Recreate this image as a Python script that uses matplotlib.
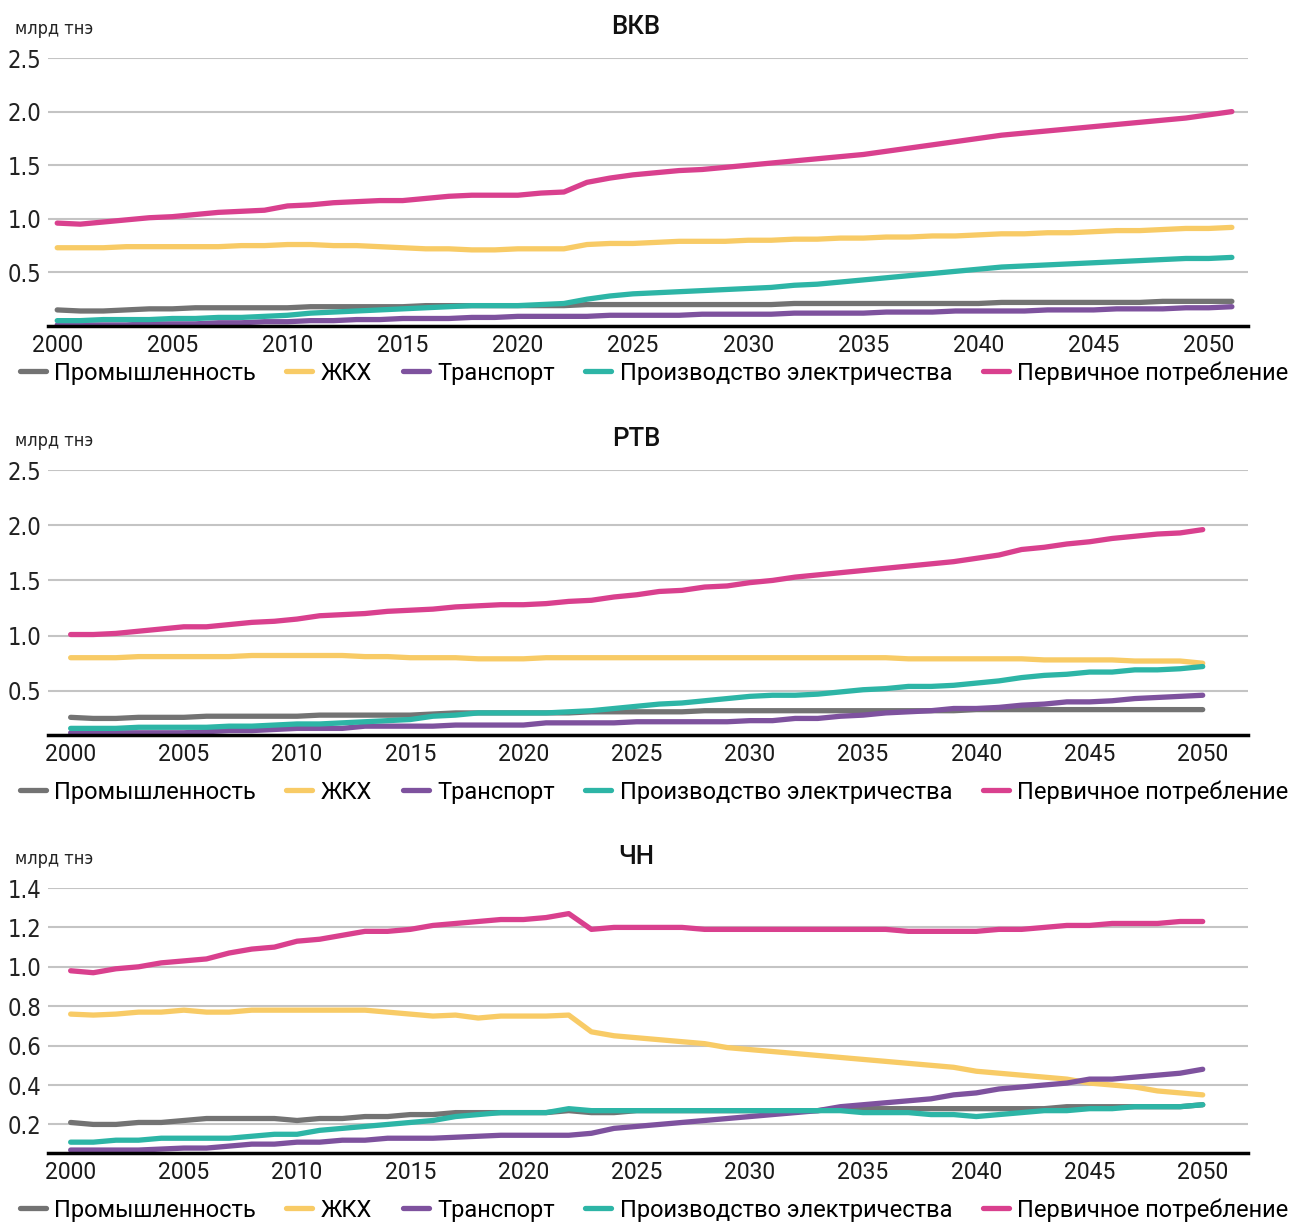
import matplotlib
matplotlib.use("Agg")
from matplotlib import pyplot as plt
from matplotlib import font_manager

# ---- data (млрд тнэ) ----
years_vkv = list(range(2000, 2052))
years = list(range(2000, 2051))

series_names = ['Промышленность', 'ЖКХ', 'Транспорт',
                'Производство электричества', 'Первичное потребление']
colors = ['#737373', '#F8CB66', '#7E529E', '#2DB5A6', '#D9408E']

# ВКВ (2000-2051)
vkv_industry = [0.15, 0.14, 0.14, 0.15, 0.16, 0.16, 0.17, 0.17, 0.17, 0.17,
                0.17, 0.18, 0.18, 0.18, 0.18, 0.18, 0.19, 0.19, 0.19, 0.19,
                0.19, 0.19, 0.19, 0.20, 0.20, 0.20, 0.20, 0.20, 0.20, 0.20,
                0.20, 0.20, 0.21, 0.21, 0.21, 0.21, 0.21, 0.21, 0.21, 0.21,
                0.21, 0.22, 0.22, 0.22, 0.22, 0.22, 0.22, 0.22, 0.23, 0.23,
                0.23, 0.23]
vkv_housing = [0.73, 0.73, 0.73, 0.74, 0.74, 0.74, 0.74, 0.74, 0.75, 0.75,
               0.76, 0.76, 0.75, 0.75, 0.74, 0.73, 0.72, 0.72, 0.71, 0.71,
               0.72, 0.72, 0.72, 0.76, 0.77, 0.77, 0.78, 0.79, 0.79, 0.79,
               0.80, 0.80, 0.81, 0.81, 0.82, 0.82, 0.83, 0.83, 0.84, 0.84,
               0.85, 0.86, 0.86, 0.87, 0.87, 0.88, 0.89, 0.89, 0.90, 0.91,
               0.91, 0.92]
vkv_transport = [0.01, 0.01, 0.01, 0.01, 0.02, 0.02, 0.02, 0.03, 0.03, 0.04,
                 0.04, 0.05, 0.05, 0.06, 0.06, 0.07, 0.07, 0.07, 0.08, 0.08,
                 0.09, 0.09, 0.09, 0.09, 0.10, 0.10, 0.10, 0.10, 0.11, 0.11,
                 0.11, 0.11, 0.12, 0.12, 0.12, 0.12, 0.13, 0.13, 0.13, 0.14,
                 0.14, 0.14, 0.14, 0.15, 0.15, 0.15, 0.16, 0.16, 0.16, 0.17,
                 0.17, 0.18]
vkv_power = [0.05, 0.05, 0.06, 0.06, 0.06, 0.07, 0.07, 0.08, 0.08, 0.09,
             0.10, 0.12, 0.13, 0.14, 0.15, 0.16, 0.17, 0.18, 0.19, 0.19,
             0.19, 0.20, 0.21, 0.25, 0.28, 0.30, 0.31, 0.32, 0.33, 0.34,
             0.35, 0.36, 0.38, 0.39, 0.41, 0.43, 0.45, 0.47, 0.49, 0.51,
             0.53, 0.55, 0.56, 0.57, 0.58, 0.59, 0.60, 0.61, 0.62, 0.63,
             0.63, 0.64]
vkv_primary = [0.96, 0.95, 0.97, 0.99, 1.01, 1.02, 1.04, 1.06, 1.07, 1.08,
               1.12, 1.13, 1.15, 1.16, 1.17, 1.17, 1.19, 1.21, 1.22, 1.22,
               1.22, 1.24, 1.25, 1.34, 1.38, 1.41, 1.43, 1.45, 1.46, 1.48,
               1.50, 1.52, 1.54, 1.56, 1.58, 1.60, 1.63, 1.66, 1.69, 1.72,
               1.75, 1.78, 1.80, 1.82, 1.84, 1.86, 1.88, 1.90, 1.92, 1.94,
               1.97, 2.00]

# РТВ (2000-2050)
rtv_industry = [0.26, 0.25, 0.25, 0.26, 0.26, 0.26, 0.27, 0.27, 0.27, 0.27,
                0.27, 0.28, 0.28, 0.28, 0.28, 0.28, 0.29, 0.30, 0.30, 0.30,
                0.30, 0.30, 0.30, 0.31, 0.31, 0.31, 0.31, 0.31, 0.32, 0.32,
                0.32, 0.32, 0.32, 0.32, 0.32, 0.32, 0.32, 0.32, 0.32, 0.32,
                0.33, 0.33, 0.33, 0.33, 0.33, 0.33, 0.33, 0.33, 0.33, 0.33,
                0.33]
rtv_housing = [0.80, 0.80, 0.80, 0.81, 0.81, 0.81, 0.81, 0.81, 0.82, 0.82,
               0.82, 0.82, 0.82, 0.81, 0.81, 0.80, 0.80, 0.80, 0.79, 0.79,
               0.79, 0.80, 0.80, 0.80, 0.80, 0.80, 0.80, 0.80, 0.80, 0.80,
               0.80, 0.80, 0.80, 0.80, 0.80, 0.80, 0.80, 0.79, 0.79, 0.79,
               0.79, 0.79, 0.79, 0.78, 0.78, 0.78, 0.78, 0.77, 0.77, 0.77,
               0.75]
rtv_transport = [0.12, 0.12, 0.12, 0.12, 0.12, 0.12, 0.13, 0.14, 0.14, 0.15,
                 0.16, 0.16, 0.16, 0.18, 0.18, 0.18, 0.18, 0.19, 0.19, 0.19,
                 0.19, 0.21, 0.21, 0.21, 0.21, 0.22, 0.22, 0.22, 0.22, 0.22,
                 0.23, 0.23, 0.25, 0.25, 0.27, 0.28, 0.30, 0.31, 0.32, 0.34,
                 0.34, 0.35, 0.37, 0.38, 0.40, 0.40, 0.41, 0.43, 0.44, 0.45,
                 0.46]
rtv_power = [0.16, 0.16, 0.16, 0.17, 0.17, 0.17, 0.17, 0.18, 0.18, 0.19,
             0.20, 0.20, 0.21, 0.22, 0.23, 0.24, 0.27, 0.28, 0.30, 0.30,
             0.30, 0.30, 0.31, 0.32, 0.34, 0.36, 0.38, 0.39, 0.41, 0.43,
             0.45, 0.46, 0.46, 0.47, 0.49, 0.51, 0.52, 0.54, 0.54, 0.55,
             0.57, 0.59, 0.62, 0.64, 0.65, 0.67, 0.67, 0.69, 0.69, 0.70,
             0.72]
rtv_primary = [1.01, 1.01, 1.02, 1.04, 1.06, 1.08, 1.08, 1.10, 1.12, 1.13,
               1.15, 1.18, 1.19, 1.20, 1.22, 1.23, 1.24, 1.26, 1.27, 1.28,
               1.28, 1.29, 1.31, 1.32, 1.35, 1.37, 1.40, 1.41, 1.44, 1.45,
               1.48, 1.50, 1.53, 1.55, 1.57, 1.59, 1.61, 1.63, 1.65, 1.67,
               1.70, 1.73, 1.78, 1.80, 1.83, 1.85, 1.88, 1.90, 1.92, 1.93,
               1.96]

# ЧН (2000-2050)
chn_industry = [0.21, 0.20, 0.20, 0.21, 0.21, 0.22, 0.23, 0.23, 0.23, 0.23,
                0.22, 0.23, 0.23, 0.24, 0.24, 0.25, 0.25, 0.26, 0.26, 0.26,
                0.26, 0.26, 0.27, 0.26, 0.26, 0.27, 0.27, 0.27, 0.27, 0.27,
                0.27, 0.27, 0.27, 0.27, 0.28, 0.28, 0.28, 0.28, 0.28, 0.28,
                0.28, 0.28, 0.28, 0.28, 0.29, 0.29, 0.29, 0.29, 0.29, 0.29,
                0.30]
chn_housing = [0.76, 0.755, 0.76, 0.77, 0.77, 0.78, 0.77, 0.77, 0.78, 0.78,
               0.78, 0.78, 0.78, 0.78, 0.77, 0.76, 0.75, 0.755, 0.74, 0.75,
               0.75, 0.75, 0.755, 0.67, 0.65, 0.64, 0.63, 0.62, 0.61, 0.59,
               0.58, 0.57, 0.56, 0.55, 0.54, 0.53, 0.52, 0.51, 0.50, 0.49,
               0.47, 0.46, 0.45, 0.44, 0.43, 0.41, 0.40, 0.39, 0.37, 0.36,
               0.35]
chn_transport = [0.07, 0.07, 0.07, 0.07, 0.075, 0.08, 0.08, 0.09, 0.10, 0.10,
                 0.11, 0.11, 0.12, 0.12, 0.13, 0.13, 0.13, 0.135, 0.14, 0.145,
                 0.145, 0.145, 0.145, 0.155, 0.18, 0.19, 0.20, 0.21, 0.22, 0.23,
                 0.24, 0.25, 0.26, 0.27, 0.29, 0.30, 0.31, 0.32, 0.33, 0.35,
                 0.36, 0.38, 0.39, 0.40, 0.41, 0.43, 0.43, 0.44, 0.45, 0.46,
                 0.48]
chn_power = [0.11, 0.11, 0.12, 0.12, 0.13, 0.13, 0.13, 0.13, 0.14, 0.15,
             0.15, 0.17, 0.18, 0.19, 0.20, 0.21, 0.22, 0.24, 0.25, 0.26,
             0.26, 0.26, 0.28, 0.27, 0.27, 0.27, 0.27, 0.27, 0.27, 0.27,
             0.27, 0.27, 0.27, 0.27, 0.27, 0.26, 0.26, 0.26, 0.25, 0.25,
             0.24, 0.25, 0.26, 0.27, 0.27, 0.28, 0.28, 0.29, 0.29, 0.29,
             0.30]
chn_primary = [0.98, 0.97, 0.99, 1.00, 1.02, 1.03, 1.04, 1.07, 1.09, 1.10,
               1.13, 1.14, 1.16, 1.18, 1.18, 1.19, 1.21, 1.22, 1.23, 1.24,
               1.24, 1.25, 1.27, 1.19, 1.20, 1.20, 1.20, 1.20, 1.19, 1.19,
               1.19, 1.19, 1.19, 1.19, 1.19, 1.19, 1.19, 1.18, 1.18, 1.18,
               1.18, 1.19, 1.19, 1.20, 1.21, 1.21, 1.22, 1.22, 1.22, 1.23,
               1.23]

panels = [
    ('ВКВ', years_vkv, [vkv_industry, vkv_housing, vkv_transport, vkv_power, vkv_primary],
     (0.0, 2.5), [0.5, 1.0, 1.5, 2.0, 2.5], (1999.6, 2051.7), 58, 326, 373),
    ('РТВ', years, [rtv_industry, rtv_housing, rtv_transport, rtv_power, rtv_primary],
     (0.1, 2.5), [0.5, 1.0, 1.5, 2.0, 2.5], (1999.0, 2052.0), 470, 735, 792),
    ('ЧН', years, [chn_industry, chn_housing, chn_transport, chn_power, chn_primary],
     (0.055, 1.4), [0.2, 0.4, 0.6, 0.8, 1.0, 1.2, 1.4], (1999.0, 2052.0), 888, 1153, 1210),
]

W, H = 1297, 1222
fig = plt.figure(figsize=(W / 100, H / 100), dpi=100)

# condensed face for the axis numbers and unit label
narrow = font_manager.FontProperties(family='DejaVu Sans', stretch='condensed', size=17)
unit_font = font_manager.FontProperties(family='DejaVu Sans', stretch='condensed', size=13)
main_font = ['Roboto', 'DejaVu Sans']

for title, xs, data, ylim, yticks, xlim, top_px, bottom_px, legend_px in panels:
    ax = fig.add_axes([48 / W, 1 - bottom_px / H, 1200 / W, (bottom_px - top_px) / H])
    lines = []
    for values, name, color in zip(data, series_names, colors):
        ln, = ax.plot(xs, values, color=color, lw=3.8, label=name,
                      solid_capstyle='round', solid_joinstyle='round', zorder=3)
        lines.append(ln)
    ax.set_ylim(*ylim)
    ax.set_xlim(*xlim)
    ax.set_yticks(yticks)
    ax.set_yticklabels([f'{v:.1f}' for v in yticks], fontproperties=narrow, color='#222222')
    ax.set_xticks(list(range(2000, 2051, 5)))
    ax.set_xticklabels([str(y) for y in range(2000, 2051, 5)], family=main_font,
                       fontsize=16.5, color='#1a1a1a')
    ax.tick_params(axis='both', length=0)
    ax.tick_params(axis='y', pad=5)
    ax.tick_params(axis='x', pad=6)
    ax.grid(axis='y', color='#c4c4c4', lw=1.5)
    ax.set_axisbelow(True)
    for side in ['top', 'right', 'left']:
        ax.spines[side].set_visible(False)
    ax.spines['bottom'].set_color('black')
    ax.spines['bottom'].set_linewidth(2.5)
    ax.spines['bottom'].set_zorder(4)

    fig.text(636 / W, 1 - (top_px - 31) / H, title, ha='center', va='center',
             family=main_font, fontsize=18.5, fontweight='medium', color='#111111')
    fig.text(15 / W, 1 - (top_px - 29) / H, 'млрд тнэ', ha='left', va='center',
             fontproperties=unit_font, color='#222222')

    fig.legend(lines, series_names, loc='center', bbox_to_anchor=(654 / W, 1 - legend_px / H),
               ncol=5, frameon=False, prop={'family': main_font, 'size': 17},
               handlelength=1.1, handletextpad=0.35, columnspacing=1.3,
               borderaxespad=0, borderpad=0)

fig.savefig('out.png', dpi=100)
